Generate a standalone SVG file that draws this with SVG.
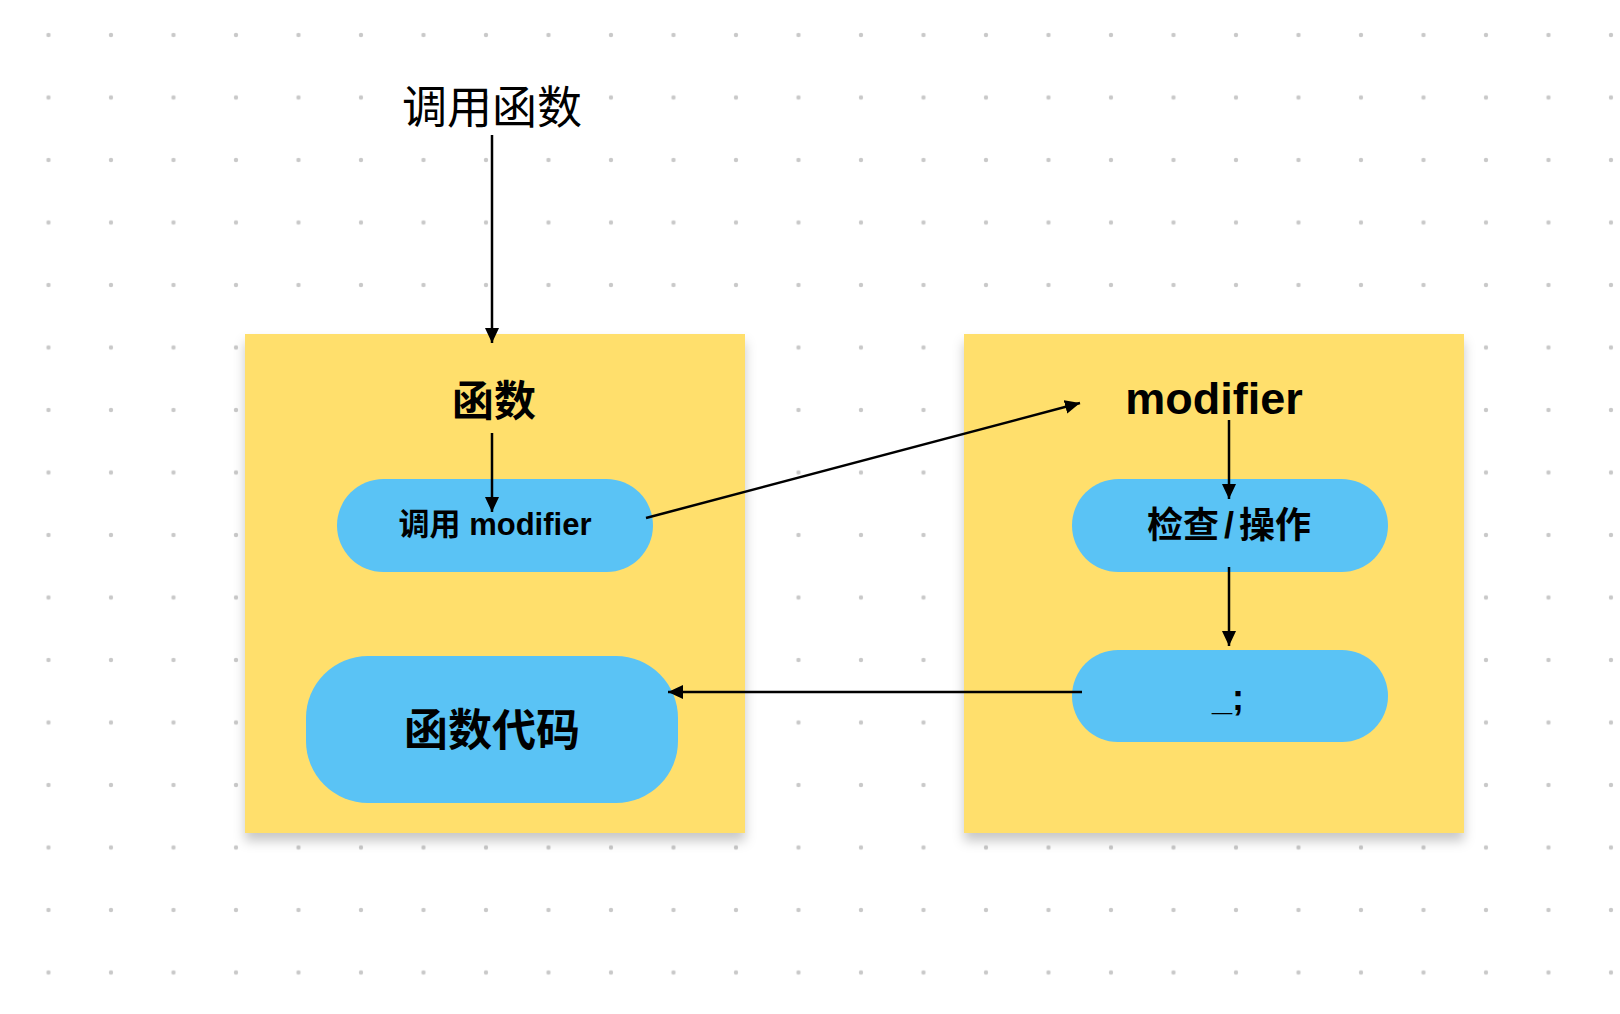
<svg xmlns="http://www.w3.org/2000/svg" width="1620" height="1014" viewBox="0 0 1620 1014">
<defs>
  <pattern id="dots" x="48.5" y="35" width="62.5" height="62.5" patternUnits="userSpaceOnUse">
    <circle cx="0" cy="0" r="2.2" fill="#c9c9c9"/>
    <circle cx="62.5" cy="0" r="2.2" fill="#c9c9c9"/>
    <circle cx="0" cy="62.5" r="2.2" fill="#c9c9c9"/>
    <circle cx="62.5" cy="62.5" r="2.2" fill="#c9c9c9"/>
  </pattern>
  <filter id="shadow" x="-10%" y="-10%" width="120%" height="125%">
    <feDropShadow dx="0" dy="8" stdDeviation="6" flood-color="#000" flood-opacity="0.22"/>
  </filter>
  <marker id="arrow" markerUnits="userSpaceOnUse" markerWidth="17" markerHeight="15" refX="15" refY="7" orient="auto">
    <path d="M0,0 L15,7 L0,14 Z" fill="#000"/>
  </marker>
  <style>
    .sticky { fill: #FFDF6C; filter: url(#shadow); }
    .pill { fill: #5AC3F5; }
    .t { font-family: "Liberation Sans", "Noto Sans CJK SC", sans-serif; fill: #000; text-anchor: middle; }
    .b { font-weight: bold; }
    .conn { stroke: #000; stroke-width: 2.5; fill: none; marker-end: url(#arrow); }
  </style>
</defs>
<rect width="1620" height="1014" fill="#fff"/>
<rect x="40" y="30" width="1580" height="950" fill="url(#dots)"/>

<g id="label-call">
  <text class="t" x="492" y="124" font-size="45">调用函数</text>
</g>

<g id="function-box">
  <rect class="sticky" x="245" y="334" width="500" height="499"/>
  <text class="t b" x="494" y="416" font-size="42">函数</text>
</g>

<g id="call-modifier">
  <rect class="pill" x="337" y="479" width="316" height="93" rx="46.5"/>
  <text class="t b" x="495" y="535" font-size="31">调用 modifier</text>
</g>

<g id="function-code">
  <rect class="pill" x="306" y="656" width="372" height="147" rx="62"/>
  <text class="t b" x="492" y="746" font-size="44">函数代码</text>
</g>

<g id="modifier-box">
  <rect class="sticky" x="964" y="334" width="500" height="499"/>
  <text class="t b" x="1214" y="414" font-size="45">modifier</text>
</g>

<g id="check">
  <rect class="pill" x="1072" y="479" width="316" height="93" rx="46.5"/>
  <text class="t b" x="1229" y="538" font-size="36">检查<tspan dx="5">/</tspan><tspan dx="5">操作</tspan></text>
</g>

<g id="placeholder">
  <rect class="pill" x="1072" y="650" width="316" height="92" rx="46"/>
  <text class="t b" x="1228" y="710" font-size="36">_;</text>
</g>

<g id="connectors">
  <line class="conn" x1="492" y1="135" x2="492" y2="343"/>
  <line class="conn" x1="492" y1="433" x2="492" y2="512"/>
  <line class="conn" x1="646" y1="518" x2="1080" y2="403"/>
  <line class="conn" x1="1229" y1="420" x2="1229" y2="499"/>
  <line class="conn" x1="1229" y1="567" x2="1229" y2="646"/>
  <line class="conn" x1="1082" y1="692" x2="668" y2="692"/>
</g>
</svg>
